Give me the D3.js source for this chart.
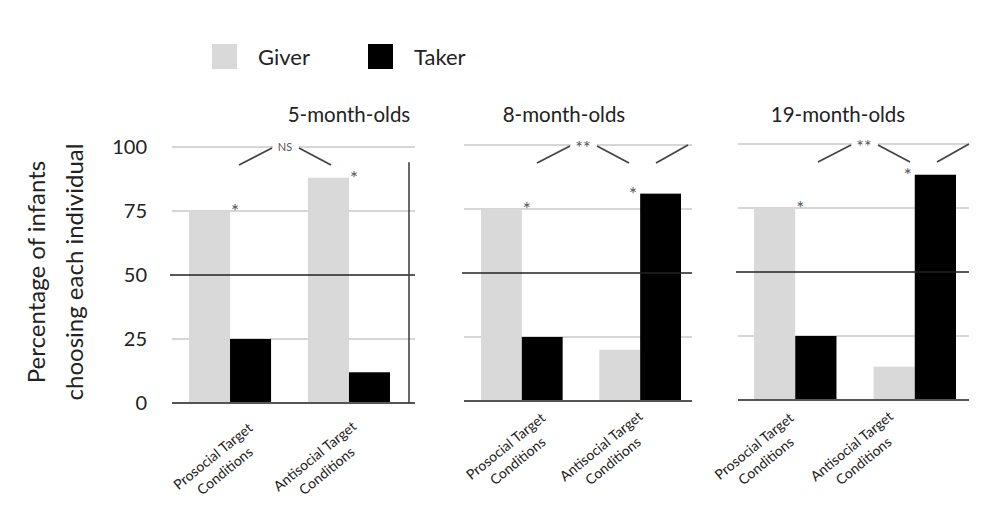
<!DOCTYPE html>
<html>
<head>
<meta charset="utf-8">
<script src="https://cdn.jsdelivr.net/npm/d3@7"></script>
<style>
  body { margin: 0; background: #fff; }
  text { font-family: Lato, "Open Sans", sans-serif; fill: #222; }
</style>
</head>
<body>
<svg id="chart" width="1004" height="518"></svg>
<script>
// data
const ageGroups = ["5-month-olds", "8-month-olds", "19-month-olds"];
const conditions = ["Prosocial Target Conditions", "Antisocial Target Conditions"];
const conditionLines = [["Prosocial Target", "Conditions"], ["Antisocial Target", "Conditions"]];
const series = ["Giver", "Taker"];
const giverValues = [[75, 88], [75, 20], [75, 13]];
const takerValues = [[25, 12], [25, 81], [25, 88]];
const barStars = [["*", "*"], ["*", "*"], ["*", "*"]];
const comparisonLabels = ["NS", "**", "**"];
const yTicks = [0, 25, 50, 75, 100];

const colors = { Giver: "#d9d9d9", Taker: "#000" };

// panel layout (pixel boxes of each small chart)
const panels = [
  { left: 172, right: 415, top: 147, bottom: 403, barL: 189, barR: 390, titleX: 349, brk: 285, arms: 2, labelY: 460, labelDx: [-14, -31], sideLine: 409 },
  { left: 464, right: 692, top: 145, bottom: 401, barL: 481, barR: 681, titleX: 564, brk: 583, arms: 3, labelY: 450, labelDx: [-13, -36] },
  { left: 738, right: 969, top: 144, bottom: 400, barL: 754, barR: 956, titleX: 838, brk: 864, arms: 3, labelY: 450, labelDx: [-38, -60] }
];

const svg = d3.select("#chart");

// legend
const legend = svg.append("g");
series.forEach((s, i) => {
  const lx = 212 + i * 156;
  legend.append("rect").attr("x", lx).attr("y", 44).attr("width", 25).attr("height", 25)
    .attr("fill", colors[s]);
  legend.append("text").attr("x", lx + 46).attr("y", 65).attr("font-size", 22).text(s);
});

// y title
["Percentage of infants", "choosing each individual"].forEach((t, i) => {
  svg.append("text")
    .attr("transform", "translate(" + (45 + i * 38) + ",272) rotate(-90)")
    .attr("text-anchor", "middle")
    .attr("font-size", 24)
    .text(t);
});

panels.forEach((p, k) => {
  const g = svg.append("g");
  const y = d3.scaleLinear().domain([0, 100]).range([p.bottom, p.top]);
  const x0 = d3.scaleBand().domain(conditions).range([p.barL, p.barR]).paddingInner(0.31);
  const x1 = d3.scaleBand().domain(series).range([0, x0.bandwidth()]);

  const rows = conditions.map((c, j) => ({
    cond: c,
    j: j,
    Giver: giverValues[k][j],
    Taker: takerValues[k][j]
  }));

  // y tick labels only on the first panel
  if (k === 0) {
    const ax = g.append("g")
      .attr("transform", "translate(" + p.left + ",0)")
      .call(d3.axisLeft(y).tickValues(yTicks).tickSize(0).tickPadding(25));
    ax.select(".domain").remove();
    ax.selectAll("text").attr("font-size", 20).attr("font-family", "Lato, sans-serif").attr("fill", "#222");
  }

  // light grid lines behind bars
  g.selectAll(".grid")
    .data(yTicks.filter(d => d !== 0 && d !== 50))
    .enter().append("line")
    .attr("x1", p.left).attr("x2", p.right)
    .attr("y1", d => y(d)).attr("y2", d => y(d))
    .attr("stroke", "#c8c8c8").attr("stroke-width", 1.6);

  // bars
  const grp = g.selectAll(".grp").data(rows).enter().append("g")
    .attr("transform", d => "translate(" + x0(d.cond) + ",0)");
  grp.selectAll("rect")
    .data(d => series.map(s => ({ s: s, v: d[s] })))
    .enter().append("rect")
    .attr("x", d => x1(d.s))
    .attr("y", d => y(d.v))
    .attr("width", x1.bandwidth())
    .attr("height", d => y(0) - y(d.v))
    .attr("fill", d => colors[d.s]);

  // chance line and baseline on top
  g.append("line")
    .attr("x1", p.left - 2).attr("x2", p.right)
    .attr("y1", y(50)).attr("y2", y(50))
    .attr("stroke", "#222").attr("stroke-width", 1.6);
  g.append("line")
    .attr("x1", p.left).attr("x2", p.right)
    .attr("y1", y(0)).attr("y2", y(0))
    .attr("stroke", "#555").attr("stroke-width", 2.2);

  if (p.sideLine) {
    g.append("line")
      .attr("x1", p.sideLine).attr("x2", p.sideLine)
      .attr("y1", y(94)).attr("y2", y(0))
      .attr("stroke", "#444").attr("stroke-width", 1.6);
  }

  // stars over the preferred bar
  grp.append("text")
    .attr("x", d => x0.bandwidth() / 2 + (d.Giver > d.Taker ? 5 : -7))
    .attr("y", d => y(Math.max(d.Giver, d.Taker)) + 7)
    .attr("text-anchor", "middle")
    .attr("font-size", 19)
    .style("fill", "#555")
    .text(d => barStars[k][d.j]);

  // comparison bracket
  g.append("rect")
    .attr("x", p.brk - 12).attr("y", y(100) - 3)
    .attr("width", 26).attr("height", 6).attr("fill", "#fff");
  g.append("text")
    .attr("x", p.brk).attr("y", y(100) + (k === 0 ? 4 : 9))
    .attr("text-anchor", "middle")
    .attr("font-size", k === 0 ? 11 : 18)
    .style("fill", "#555")
    .text(comparisonLabels[k]);
  const arms = [[p.brk - 46, y(100) + 18, p.brk - 13, y(100) + 1],
                [p.brk + 14, y(100) + 1, p.brk + 46, y(100) + 18]];
  if (p.arms === 3) arms.push([p.brk + 73, y(100) + 18, p.brk + 105, y(100)]);
  g.selectAll(".arm").data(arms).enter().append("line")
    .attr("x1", d => d[0]).attr("y1", d => d[1])
    .attr("x2", d => d[2]).attr("y2", d => d[3])
    .attr("stroke", "#444").attr("stroke-width", 1.8);

  // title
  g.append("text")
    .attr("x", p.titleX).attr("y", 122)
    .attr("text-anchor", "middle")
    .attr("font-size", 20.5)
    .text(ageGroups[k]);

  // rotated category labels
  conditions.forEach((c, j) => {
    const cx = x0(c) + x0.bandwidth() / 2 + p.labelDx[j];
    const t = g.append("text")
      .attr("transform", "translate(" + cx + "," + p.labelY + ") rotate(-39)")
      .attr("text-anchor", "middle")
      .attr("font-size", 14);
    conditionLines[j].forEach((line, li) => {
      t.append("tspan").attr("x", 0).attr("dy", li === 0 ? 0 : 19).text(line);
    });
  });
});
</script>
</body>
</html>
